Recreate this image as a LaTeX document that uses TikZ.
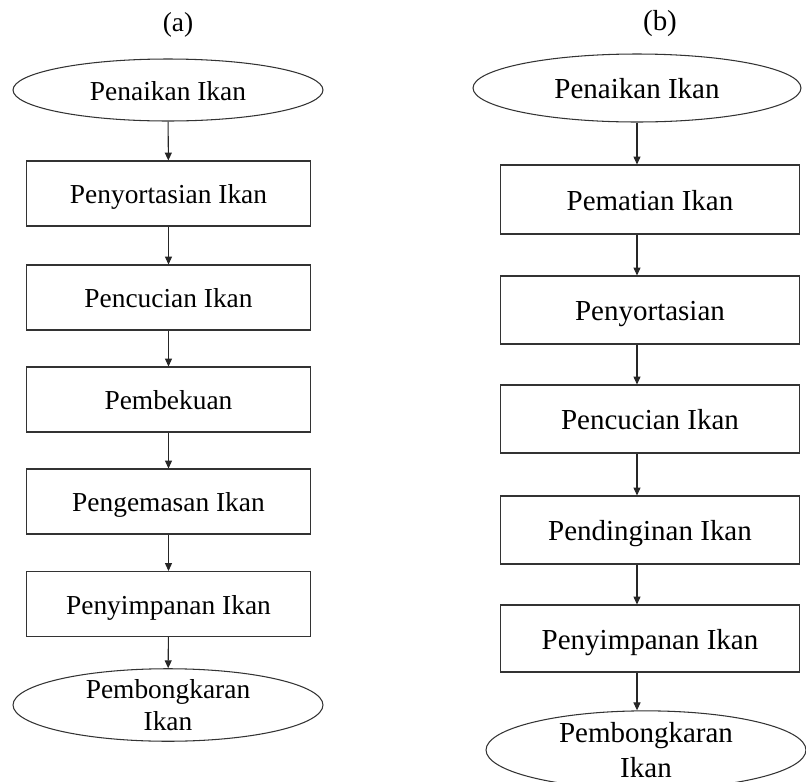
\documentclass[tikz,border=0pt]{standalone}
\usepackage{fontspec}
\setmainfont{Liberation Serif}
\usetikzlibrary{shapes.geometric,arrows.meta}
\begin{document}
\begin{tikzpicture}[x=0.02cm,y=-0.02cm,
        proses/.style={draw=black!80,line width=0.6pt,rectangle,inner sep=0pt,text height=#1,text depth=0pt},
        proses/.default=11.7pt,
        ujung/.style={draw=black!80,line width=0.6pt,ellipse,inner sep=0pt,text height=#1,text depth=0pt},
        ujung/.default=11.7pt,
        ujungdua/.style={draw=black!80,line width=0.6pt,ellipse,inner sep=0pt,align=center},
        hurufa/.style={font=\fontsize{15.6}{18.2}\selectfont},
        hurufb/.style={font=\fontsize{16.5}{19.9}\selectfont},
        panah/.style={draw=black!85,line width=0.6pt,-{Triangle[length=4.5pt,width=4pt]}}]
            \useasboundingbox (0,0) rectangle (806,782);

            % (a)
            \begin{scope}[hurufa]
            \node (labela) at (178,25) {(a)};
            \node[ujung,minimum width=6.2cm,minimum height=1.24cm] (a0) at (168,90) {Penaikan Ikan};
            \node[proses,minimum width=5.7cm,minimum height=1.3cm] (a1) at (168.5,193.5) {Penyortasian Ikan};
            \node[proses,minimum width=5.7cm,minimum height=1.3cm] (a2) at (168.5,297.5) {Pencucian Ikan};
            \node[proses,minimum width=5.7cm,minimum height=1.3cm] (a3) at (168.5,399.5) {Pembekuan};
            \node[proses,minimum width=5.7cm,minimum height=1.3cm] (a4) at (168.5,501.5) {Pengemasan Ikan};
            \node[proses,minimum width=5.7cm,minimum height=1.3cm] (a5) at (168.5,604) {Penyimpanan Ikan};
            \node[ujungdua,minimum width=6.2cm,minimum height=1.28cm] (a6) at (168,705) {Pembongkaran\\Ikan};
            \end{scope}

            \draw[panah] (a0) to (a1); \draw[panah] (a1) to (a2); \draw[panah] (a2) to (a3);
            \draw[panah] (a3) to (a4); \draw[panah] (a4) to (a5); \draw[panah] (a5) to (a6);

            % (b)
            \begin{scope}[hurufb]
            \node (labelb) at (660,24) {(b)};
            \node[ujung=12.4pt,minimum width=6.56cm,minimum height=1.36cm] (b0) at (637,88) {Penaikan Ikan};
            \node[proses=12.4pt,minimum width=6cm,minimum height=1.38cm] (b1) at (650,199.5) {Pematian Ikan};
            \node[proses=12.4pt,minimum width=6cm,minimum height=1.36cm] (b2) at (650,310) {Penyortasian};
            \node[proses=12.4pt,minimum width=6cm,minimum height=1.36cm] (b3) at (650,419) {Pencucian Ikan};
            \node[proses=12.4pt,minimum width=6cm,minimum height=1.36cm] (b4) at (650,530) {Pendinginan Ikan};
            \node[proses=12.4pt,minimum width=6cm,minimum height=1.34cm] (b5) at (650,638.5) {Penyimpanan Ikan};
            \node[ujungdua,minimum width=6.4cm,minimum height=1.36cm] (b6) at (646,750) {Pembongkaran\\Ikan};
            \end{scope}

            \draw[panah] (b0) to (b0 |- b1.north);
            \draw[panah] (b1.south -| b0) to (b2.north -| b0); \draw[panah] (b2.south -| b0) to (b3.north -| b0);
            \draw[panah] (b3.south -| b0) to (b4.north -| b0); \draw[panah] (b4.south -| b0) to (b5.north -| b0);
            \draw[panah] (b5.south -| b0) to (b6.north -| b0);
        \end{tikzpicture}
\end{document}
